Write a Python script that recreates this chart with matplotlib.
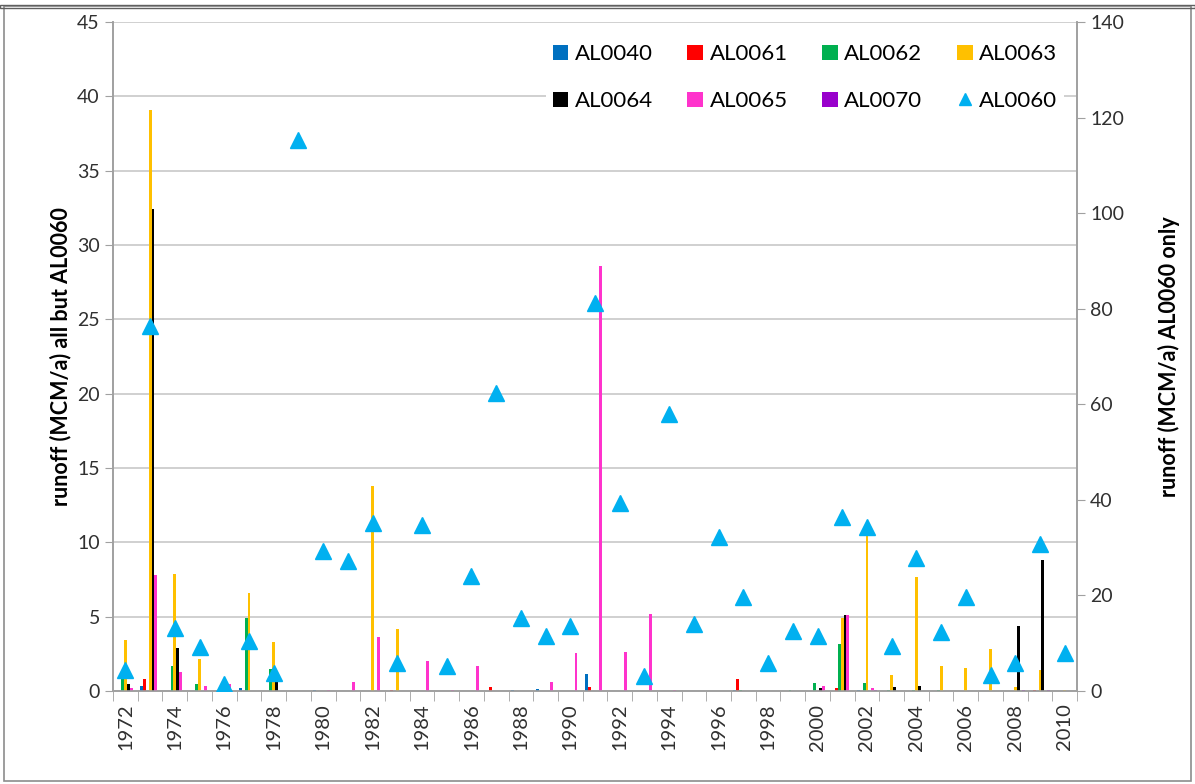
import numpy as np
import matplotlib.pyplot as plt
from matplotlib.patches import Rectangle

plt.rcParams['font.family'] = ['Lato', 'DejaVu Sans']

years = list(range(1972, 2011))

# runoff (MCM/a), left axis series, one value per year 1972..2010
al0040 = [0, 0.35, 0, 0, 0, 0.2, 0, 0, 0.1, 0, 0, 0, 0, 0, 0, 0, 0.05, 0.15, 0.03, 1.15,
          0, 0, 0, 0, 0.03, 0.07, 0, 0, 0, 0, 0.05, 0, 0, 0, 0, 0, 0, 0.03, 0]
al0061 = [0, 0.8, 0, 0, 0, 0, 0, 0, 0, 0, 0, 0.1, 0, 0, 0, 0.3, 0, 0, 0, 0.3,
          0, 0, 0.03, 0, 0, 0.8, 0, 0, 0, 0.2, 0, 0, 0, 0, 0, 0, 0.03, 0.08, 0]
al0062 = [1.1, 0, 1.7, 0.5, 0, 4.9, 1.5, 0, 0, 0, 0, 0, 0, 0, 0, 0, 0, 0, 0, 0,
          0, 0, 0, 0, 0, 0.05, 0, 0.05, 0.55, 3.15, 0.55, 0.08, 0.05, 0.05, 0, 0, 0, 0, 0]
al0063 = [3.4, 39.1, 7.9, 2.15, 0, 6.6, 3.3, 0, 0, 0, 13.8, 4.15, 0, 0, 0, 0, 0, 0, 0, 0,
          0, 0, 0, 0, 0, 0, 0, 0, 0, 4.9, 10.8, 1.05, 7.65, 1.7, 1.57, 2.8, 0.25, 1.4, 0.08]
al0064 = [0.5, 32.4, 2.9, 0, 0, 0, 0.9, 0, 0, 0, 0, 0, 0, 0, 0, 0, 0, 0, 0, 0,
          0, 0, 0, 0, 0, 0, 0, 0, 0.2, 5.1, 0, 0.25, 0.35, 0, 0, 0, 4.4, 8.8, 0]
al0065 = [0.2, 7.8, 1.3, 0.35, 0.47, 0, 0, 0, 0.1, 0.6, 3.6, 0, 2.0, 0.05, 1.7, 0, 0, 0.6, 2.55, 28.6,
          2.65, 5.15, 0.05, 0, 0, 0, 0, 0, 0.35, 5.1, 0.2, 0, 0, 0, 0, 0, 0, 0, 0]
al0070 = [0, 0, 0, 0, 0, 0, 0, 0, 0, 0, 0, 0, 0, 0, 0, 0, 0, 0, 0, 0,
          0, 0, 0, 0, 0, 0, 0, 0, 0, 0, 0.1, 0, 0, 0, 0, 0, 0.08, 0.1, 0]
# right axis series
al0060 = [4.4, 76.4, 13.2, 9.2, 1.5, 10.5, 3.8, 115.3, 29.3, 27.3, 35.2, 5.9, 34.7, 5.2, 24.1, 62.4,
          15.3, 11.5, 13.6, 81.2, 39.3, 3.2, 58.0, 14.0, 32.2, 19.7, 5.9, 12.6, 11.5, 36.4, 34.3,
          9.5, 27.8, 12.4, 19.6, 3.3, 5.9, 30.8, 7.9]

series = [("AL0040", al0040, "#0070C0"), ("AL0061", al0061, "#FF0000"),
          ("AL0062", al0062, "#00B050"), ("AL0063", al0063, "#FFC000"),
          ("AL0064", al0064, "#000000"), ("AL0065", al0065, "#FF33CC"),
          ("AL0070", al0070, "#9900CC")]

fig = plt.figure(figsize=(11.95, 7.84), dpi=100)
ax = fig.add_axes([0.0946, 0.1186, 0.8067, 0.8533])
ax2 = ax.twinx()

x = np.array(years)
w = 0.115
handles = []
for i, (name, vals, col) in enumerate(series):
    b = ax.bar(x + (i - 3) * w, vals, width=w, color=col, label=name, zorder=3)
    handles.append(b)

tri, = ax2.plot(x, al0060, linestyle="none", marker="^", markersize=11,
                color="#00B0F0", label="AL0060", zorder=4)
handles.append(tri)

ax.set_xlim(1971.5, 2010.5)
ax.set_ylim(0, 45)
ax2.set_ylim(0, 140)
ax.set_yticks(np.arange(0, 46, 5))
ax2.set_yticks(np.arange(0, 141, 20))
ax.grid(axis="y", color="#c8c8c8", linewidth=1.2, zorder=0)
ax.set_axisbelow(True)

tc = "#303030"
ax.set_xticks(years[::2])
ax.set_xticklabels([str(y) for y in years[::2]], rotation=90)
ax.set_xticks(np.arange(1971.5, 2011, 1), minor=True)
ax.tick_params(axis="x", which="major", length=0, labelsize=14.5, pad=9, labelcolor=tc)
ax.tick_params(axis="x", which="minor", length=7, color="#a0a0a0")
ax.tick_params(axis="y", length=6, color="#a0a0a0", labelsize=14, labelcolor=tc)
ax2.tick_params(axis="y", length=6, color="#a0a0a0", labelsize=14, labelcolor=tc)

for a in (ax, ax2):
    a.spines["top"].set_visible(False)
    for s in ("left", "right", "bottom"):
        a.spines[s].set_color("#a0a0a0")
        a.spines[s].set_linewidth(1.2)

ax.set_ylabel("runoff (MCM/a) all but AL0060", fontsize=15.5, fontweight="bold", labelpad=4)
ax2.set_ylabel("runoff (MCM/a) AL0060 only", fontsize=15.5, fontweight="bold", labelpad=24)

ax2.set_zorder(ax.get_zorder() + 1)
ax2.patch.set_visible(False)

# legend filled row by row (matplotlib fills by column)
order = [0, 4, 1, 5, 2, 6, 3, 7]
leg = ax2.legend(handles=[handles[k] for k in order], ncol=4, loc="upper right",
                 bbox_to_anchor=(0.998, 0.993), frameon=True, fontsize=16,
                 handlelength=0.7, handleheight=0.7, handletextpad=0.3,
                 columnspacing=1.55, labelspacing=1.2, borderpad=0.3)
leg.get_frame().set_edgecolor("none")
leg.get_frame().set_facecolor("white")
leg.get_frame().set_alpha(1)
leg.legend_handles[-1].set_markersize(8)

# outer chart frame
fig.patches.append(Rectangle((0.003, 0.004), 0.994, 0.988, transform=fig.transFigure,
                             fill=False, edgecolor="#8c8c8c", linewidth=1.2))
fig.patches.append(Rectangle((0.0, 0.990), 1.0, 0.004, transform=fig.transFigure,
                             fill=False, edgecolor="#606060", linewidth=1.0))

fig.savefig("out.png", dpi=100)
